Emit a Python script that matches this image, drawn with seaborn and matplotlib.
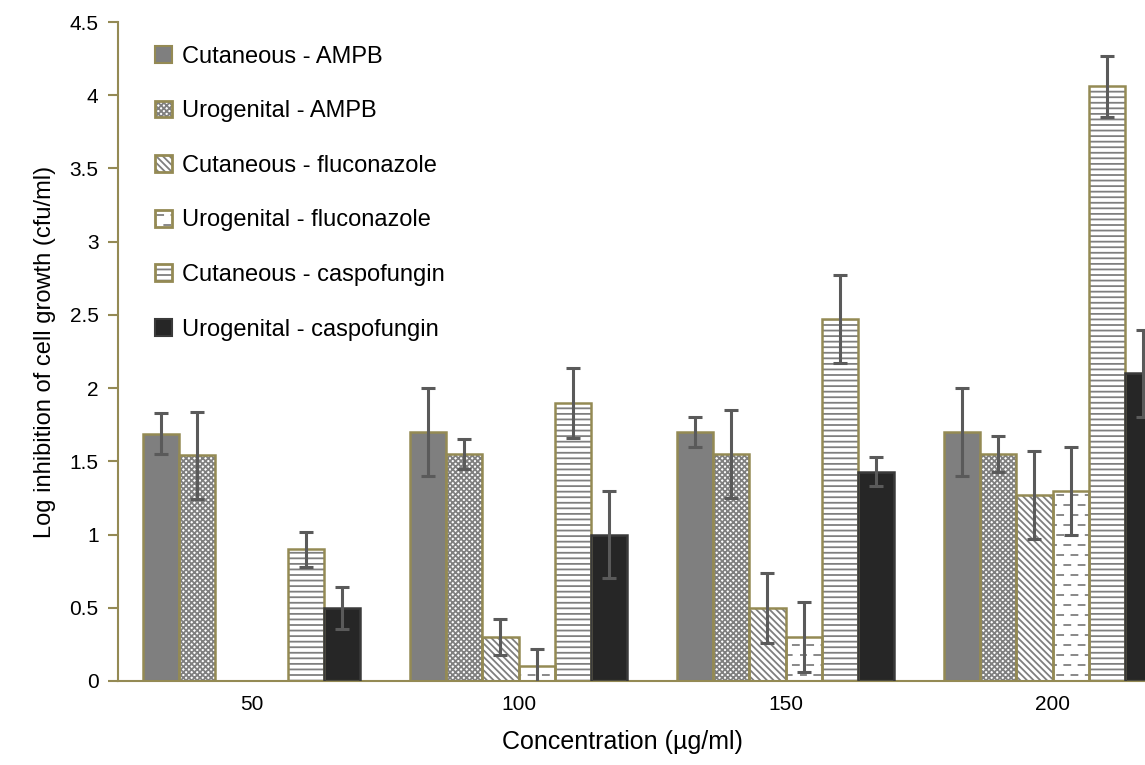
import numpy as np
import pandas as pd
import matplotlib
matplotlib.use("Agg")
import matplotlib.pyplot as plt
import matplotlib.hatch as mhatch
from matplotlib.path import Path
from matplotlib.patches import Rectangle, Patch
from matplotlib.legend_handler import HandlerTuple
import seaborn as sns

# ---------------- data ----------------
concentrations = ["50", "100", "150", "200"]
series = ["Cutaneous - AMPB", "Urogenital - AMPB", "Cutaneous - fluconazole",
          "Urogenital - fluconazole", "Cutaneous - caspofungin", "Urogenital - caspofungin"]

cut_ampb = [1.69, 1.70, 1.70, 1.70]
cut_ampb_err = [0.14, 0.30, 0.10, 0.30]
uro_ampb = [1.54, 1.55, 1.55, 1.55]
uro_ampb_err = [0.30, 0.10, 0.30, 0.12]
cut_fluc = [0.0, 0.30, 0.50, 1.27]
cut_fluc_err = [0.0, 0.12, 0.24, 0.30]
uro_fluc = [0.0, 0.10, 0.30, 1.30]
uro_fluc_err = [0.0, 0.12, 0.24, 0.30]
cut_casp = [0.90, 1.90, 2.47, 4.06]
cut_casp_err = [0.12, 0.24, 0.30, 0.21]
uro_casp = [0.50, 1.00, 1.43, 2.10]
uro_casp_err = [0.145, 0.30, 0.10, 0.30]

values = [cut_ampb, uro_ampb, cut_fluc, uro_fluc, cut_casp, uro_casp]
errors = [cut_ampb_err, uro_ampb_err, cut_fluc_err, uro_fluc_err, cut_casp_err, uro_casp_err]

y_ticks = [0, 0.5, 1, 1.5, 2, 2.5, 3, 3.5, 4, 4.5]

# ---------------- custom dashed hatch ----------------
class DashHatch(mhatch.HatchPatternBase):
    def __init__(self, hatch, density):
        n = hatch.count('O')
        self.rows = 10 if n else 0
        self.per_row = 7
        self.num_vertices = self.rows * self.per_row * 2

    def set_vertices_and_codes(self, vertices, codes):
        k = 0
        period = 1.0 / self.per_row
        dash = period * 0.42
        for r in range(self.rows):
            y = (r + 0.5) / self.rows
            off = 0.0 if r % 2 == 0 else period / 2
            for c in range(self.per_row):
                x0 = (c * period + off) % 1.0
                x1 = min(x0 + dash, 1.0)
                vertices[k] = (x0, y)
                vertices[k + 1] = (x1, y)
                codes[k] = Path.MOVETO
                codes[k + 1] = Path.LINETO
                k += 2

mhatch._hatch_types = [t for t in mhatch._hatch_types if t is not mhatch.LargeCircles] + [DashHatch]

# ---------------- style ----------------
sns.set_theme(style="white")
plt.rcParams['font.family'] = ['Liberation Sans', 'DejaVu Sans']
plt.rcParams['hatch.linewidth'] = 1.3
plt.rcParams['text.color'] = 'black'
plt.rcParams['axes.labelcolor'] = 'black'

OLIVE = '#948A54'
HATCH_GRAY = '#7F7F7F'

styles = [
    dict(face='#7F7F7F', hatch=None, edge=OLIVE),
    dict(face='white', hatch='xxxxxx', edge=OLIVE),
    dict(face='white', hatch='\\\\\\\\\\', edge=OLIVE),
    dict(face='white', hatch='O', edge=OLIVE),
    dict(face='white', hatch='---', edge=OLIVE),
    dict(face='#262626', hatch=None, edge='#3a3a3a'),
]

rows = []
for s, vals in zip(series, values):
    for c, v in zip(concentrations, vals):
        rows.append(dict(conc=c, series=s, value=v))
df = pd.DataFrame(rows)

fig = plt.figure(figsize=(11.45, 7.65), dpi=100)
ax = fig.add_axes([118 / 1145, 84 / 765, 1068 / 1145, 659 / 765])

sns.barplot(data=df, x="conc", y="value", hue="series", order=concentrations,
            hue_order=series, errorbar=None, width=0.81, gap=0, ax=ax,
            palette=['#7F7F7F'] * 6, legend=False, zorder=2)

legend_handles = []
for cont, st, errs in zip(ax.containers, styles, errors):
    for p, e in zip(cont.patches, errs):
        x, y0, w, h = p.get_x(), p.get_y(), p.get_width(), p.get_height()
        p.set_facecolor(st['face'])
        p.set_linewidth(0)
        if st['hatch']:
            p.set_hatch(st['hatch'])
            p.set_edgecolor(HATCH_GRAY)
        else:
            p.set_edgecolor(st['edge'])
        if h > 0:
            ax.add_patch(Rectangle((x, y0), w, h, fill=False, edgecolor=st['edge'],
                                   linewidth=1.8, zorder=3))
            ax.errorbar(x + w / 2, h, yerr=e, fmt='none', ecolor='#5A5A5A',
                        elinewidth=2.2, capsize=5, capthick=2.2, zorder=4)
    if st['hatch']:
        h1 = Patch(facecolor=st['face'], hatch=st['hatch'], edgecolor=HATCH_GRAY, linewidth=0)
        h2 = Patch(fill=False, edgecolor=st['edge'], linewidth=2)
        legend_handles.append((h1, h2))
    else:
        legend_handles.append(Patch(facecolor=st['face'], edgecolor=st['edge'], linewidth=1.5))

ax.set_xlim(-0.5, 3.5)
ax.set_ylim(0, 4.5)
ax.set_yticks(y_ticks)
ax.set_yticklabels([f"{t:g}" for t in y_ticks])

for side in ['top', 'right']:
    ax.spines[side].set_visible(False)
for side in ['left', 'bottom']:
    ax.spines[side].set_color(OLIVE)
    ax.spines[side].set_linewidth(1.5)

ax.tick_params(axis='y', which='major', left=True, length=7, width=1.5, color=OLIVE,
               labelsize=15, pad=7, labelcolor='black')
ax.tick_params(axis='x', which='major', bottom=False, labelsize=15, pad=4, labelcolor='black')

ax.set_xlabel("Concentration (µg/ml)", fontsize=18, color='black')
ax.set_ylabel("Log inhibition of cell growth (cfu/ml)", fontsize=17, color='black', labelpad=10)
ax.xaxis.set_label_coords(0.472, -0.075)

ax.legend(legend_handles, series, loc='upper left', bbox_to_anchor=(0.035, 0.964),
          frameon=False, fontsize=17, handlelength=0.72, handleheight=0.72,
          handletextpad=0.42, labelspacing=1.38, borderaxespad=0, borderpad=0,
          labelcolor='black',
          handler_map={tuple: HandlerTuple(ndivide=1, pad=0)})

fig.savefig("out.png", dpi=100, facecolor='white')
